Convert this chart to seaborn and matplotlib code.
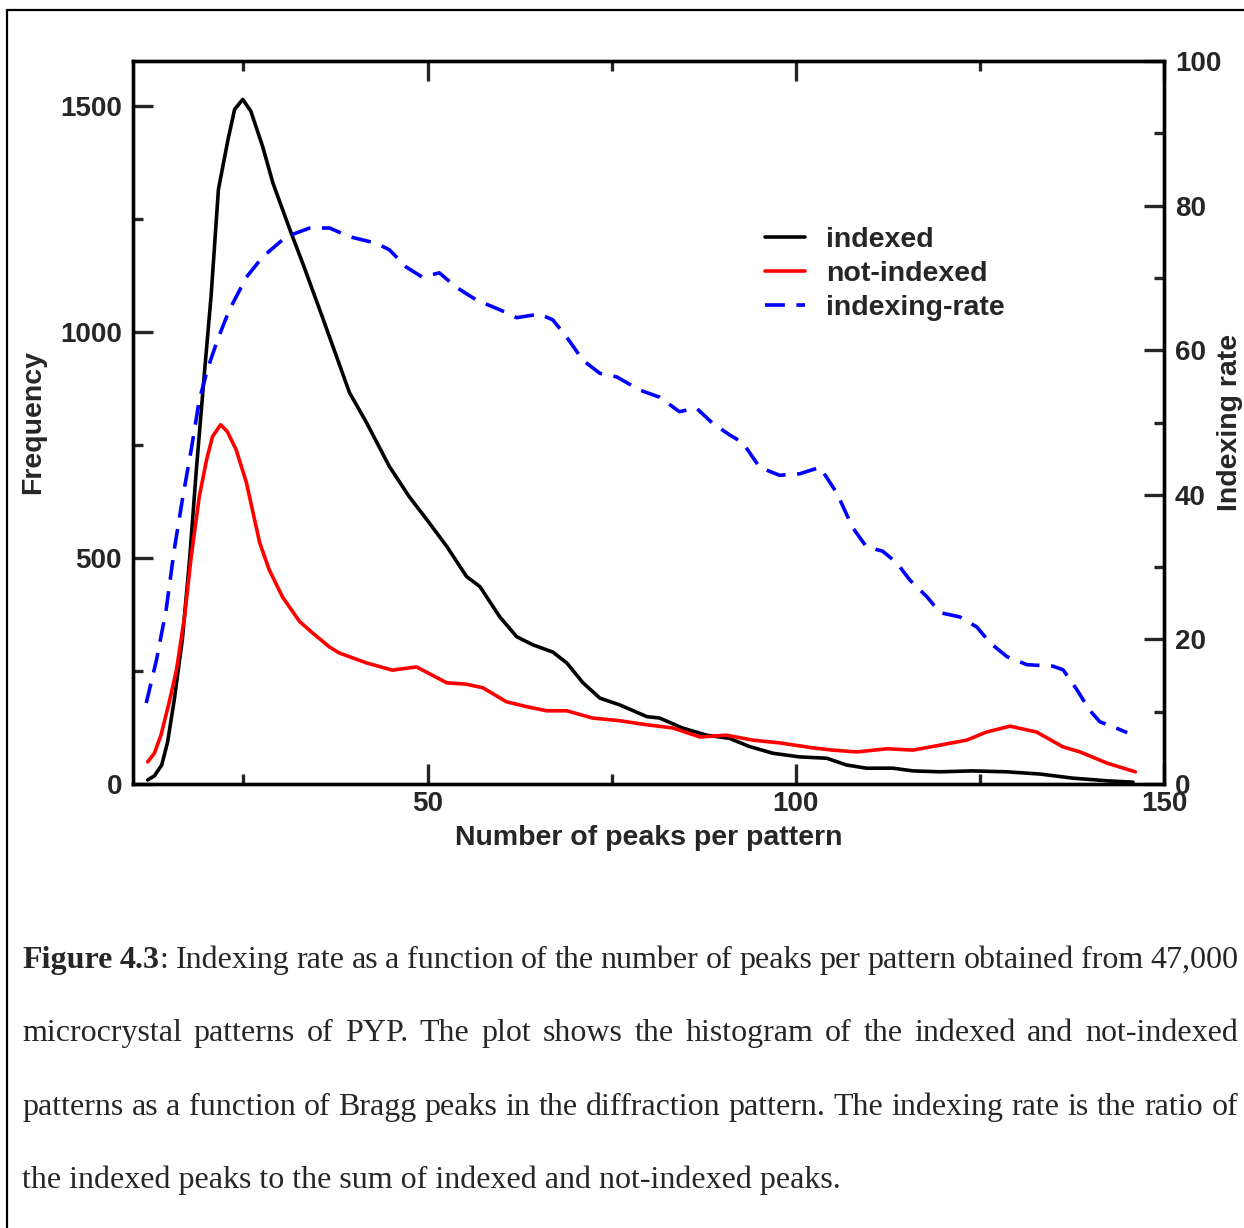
import numpy as np
import pandas as pd
import matplotlib
matplotlib.use('Agg')
import matplotlib.pyplot as plt
import seaborn as sns
from matplotlib.lines import Line2D

# values
idx_x = [12.0, 12.9, 13.9, 14.7, 15.6, 16.7, 17.7, 18.6, 19.7, 20.6, 21.6, 22.9, 23.8, 24.9,
         26.0, 27.6, 29.0, 31.3, 33.1, 35.7, 39.4, 41.7, 44.8, 47.5, 49.9, 52.6, 55.3, 57.1,
         59.8, 62.1, 64.3, 67.0, 68.9, 71.1, 73.4, 76.1, 79.8, 81.5, 84.6, 87.9, 91.0, 93.7,
         96.9, 100.5, 104.2, 106.9, 109.6, 113.2, 115.9, 119.6, 124.0, 128.6, 133.2, 137.6,
         142.3, 145.8]
idx_y = [9, 18, 42, 93, 186, 320, 500, 695, 910, 1079, 1316, 1426, 1493, 1515,
         1489, 1411, 1330, 1227, 1150, 1034, 866, 800, 703, 636, 585, 526, 459, 437,
         370, 326, 308, 292, 268, 224, 190, 175, 149, 146, 124, 108, 101, 83,
         68, 60, 57, 42, 35, 35, 29, 27, 29, 27, 22, 13,
         7, 4]

not_x = [12.0, 12.9, 13.8, 14.9, 15.9, 17.0, 17.9, 19.0, 20.0, 20.8, 21.9, 22.8, 24.0, 25.4,
         27.2, 28.5, 30.3, 32.6, 34.4, 36.7, 38.0, 41.7, 45.2, 48.5, 49.8, 52.6, 55.2, 57.5,
         60.7, 63.5, 66.2, 68.9, 72.4, 76.1, 79.8, 83.3, 87.0, 90.6, 94.2, 97.8, 102.3, 105.0,
         108.3, 112.4, 115.9, 119.6, 123.2, 125.9, 129.1, 132.7, 136.3, 138.6, 142.3, 146.1]
not_y = [49, 68, 108, 180, 252, 370, 503, 636, 718, 769, 795, 780, 740, 667,
         534, 474, 414, 360, 334, 303, 290, 268, 252, 259, 248, 224, 221, 213,
         182, 171, 162, 162, 146, 140, 131, 124, 104, 108, 97, 91, 80, 75,
         71, 78, 75, 86, 97, 115, 128, 115, 82, 71, 46, 27]

rate_x = [11.8, 13.2, 14.5, 15.6, 16.7, 17.9, 19.0, 20.1, 21.5, 23.1, 25.4, 27.6, 30.8, 34.0,
          36.7, 39.4, 43.0, 44.8, 47.1, 49.3, 51.6, 53.9, 56.7, 59.8, 62.1, 65.2, 67.0, 68.9,
          71.1, 73.4, 75.7, 78.8, 81.5, 84.2, 86.5, 88.7, 91.0, 92.8, 95.1, 97.8, 100.5, 103.3,
          105.6, 107.7, 109.6, 111.8, 113.7, 115.5, 117.8, 119.6, 122.3, 124.6, 126.4, 128.7,
          131.4, 134.9, 136.3, 138.2, 139.9, 141.3, 143.6, 145.0]
rate_y = [11.2, 17.2, 24.1, 32.4, 39.3, 46.2, 53.1, 57.3, 61.5, 65.6, 70.1, 72.9, 75.7, 76.9,
          76.9, 75.7, 74.8, 73.9, 71.5, 70.1, 70.7, 68.7, 66.9, 65.6, 64.5, 65.0, 64.2, 61.8,
          58.6, 56.8, 56.3, 54.5, 53.5, 51.5, 52.0, 49.9, 48.3, 47.2, 43.8, 42.7, 42.9, 43.8,
          40.2, 35.5, 32.8, 32.2, 30.6, 28.2, 25.9, 23.7, 23.1, 21.7, 19.5, 17.6,
          16.5, 16.3, 15.8, 13.0, 10.2, 8.6, 7.7, 7.1]

series_names = ['indexed', 'not-indexed', 'indexing-rate']

caption = [
    [[('Figure', 'bold')], [('4.3', 'bold'), (':', 'normal')]] +
    [[(w, 'normal')] for w in 'Indexing rate as a function of the number of peaks per pattern obtained from 47,000'.split()],
    [[(w, 'normal')] for w in 'microcrystal patterns of PYP. The plot shows the histogram of the indexed and not-indexed'.split()],
    [[(w, 'normal')] for w in 'patterns as a function of Bragg peaks in the diffraction pattern. The indexing rate is the ratio of'.split()],
]
caption_last = 'the indexed peaks to the sum of indexed and not-indexed peaks.'

sns.set_style('ticks')
plt.rcParams['font.family'] = ['Liberation Sans', 'DejaVu Sans']
plt.rcParams['font.weight'] = 'bold'
plt.rcParams['axes.labelweight'] = 'bold'
plt.rcParams['axes.linewidth'] = 2.4
plt.rcParams['axes.edgecolor'] = 'black'

W, H = 1244, 1228
fig = plt.figure(figsize=(W / 100, H / 100), dpi=100)
ax = fig.add_axes([133 / W, 1 - 784 / H, (1164 - 133) / W, (784 - 61) / H])
ax2 = ax.twinx()

sns.lineplot(x=idx_x, y=idx_y, ax=ax, color='black', lw=2.6, label=series_names[0], legend=False)
sns.lineplot(x=not_x, y=not_y, ax=ax, color='red', lw=2.6, label=series_names[1], legend=False)
sns.lineplot(x=rate_x, y=rate_y, ax=ax2, color='blue', lw=2.6, ls=(0, (5.5, 3.2)),
             label=series_names[2], legend=False)

ax.set_xlim(10, 150)
ax.set_ylim(0, 1600)
ax2.set_ylim(0, 100)
ax.set_xticks([50, 100, 150])
ax.set_xticks([25, 75, 125], minor=True)
ax.set_yticks([0, 500, 1000, 1500])
ax.set_yticks([250, 750, 1250], minor=True)
ax2.set_yticks(range(0, 101, 20))
ax2.set_yticks(range(10, 100, 20), minor=True)

for a in (ax, ax2):
    a.tick_params(which='major', direction='in', length=14.4, width=2.4, labelsize=20, pad=8)
    a.tick_params(which='minor', direction='in', length=7.2, width=2.4)
ax.tick_params(axis='x', which='both', top=True)
ax.tick_params(axis='x', which='major', pad=5)
ax.tick_params(axis='y', which='both', right=False)

ax.set_xlabel('Number of peaks per pattern', fontsize=20.5, va='center')
ax.xaxis.set_label_coords(0.5, -(838 - 784) / 723)
ax.set_ylabel('Frequency', fontsize=20.5, va='center')
ax.yaxis.set_label_coords((33 - 133) / 1031, 0.5)
ax2.set_ylabel('Indexing rate', fontsize=20.5, va='center', rotation=90)
ax2.yaxis.set_label_coords((1230 - 133) / 1031, 0.5)

handles = ax.get_lines()[:2] + ax2.get_lines()[:1]
ax2.legend(handles, series_names, loc='upper left', bbox_to_anchor=(765 / W, 1 - 227 / H),
           bbox_transform=fig.transFigure, frameon=False, fontsize=20.5,
           handlelength=1.4, handletextpad=0.75, labelspacing=0.28,
           borderpad=0, borderaxespad=0)

# page frame
fig.add_artist(Line2D([7 / W, 1], [1 - 10 / H, 1 - 10 / H], transform=fig.transFigure, color='black', lw=1.6))
fig.add_artist(Line2D([7 / W, 7 / W], [0, 1 - 10 / H], transform=fig.transFigure, color='black', lw=1.6))

# caption, justified
renderer = fig.canvas.get_renderer()
base = [968, 1041, 1115]
for words, yb in zip(caption, base):
    objs = []
    for word in words:
        parts = [fig.text(0, 1 - yb / H, s, fontsize=23, family='Liberation Serif', weight=wt,
                          va='baseline', ha='left') for s, wt in word]
        objs.append(parts)
    widths = [[p.get_window_extent(renderer).width for p in parts] for parts in objs]
    total = sum(sum(w) for w in widths)
    gap = (1238 - 22 - total) / (len(objs) - 1)
    xx = 22
    for parts, ws in zip(objs, widths):
        for p, w in zip(parts, ws):
            p.set_x(xx / W)
            xx += w
        xx += gap
fig.text(22 / W, 1 - 1188 / H, caption_last, fontsize=23, family='Liberation Serif',
         weight='normal', va='baseline', ha='left')

fig.savefig('out.png', dpi=100)
